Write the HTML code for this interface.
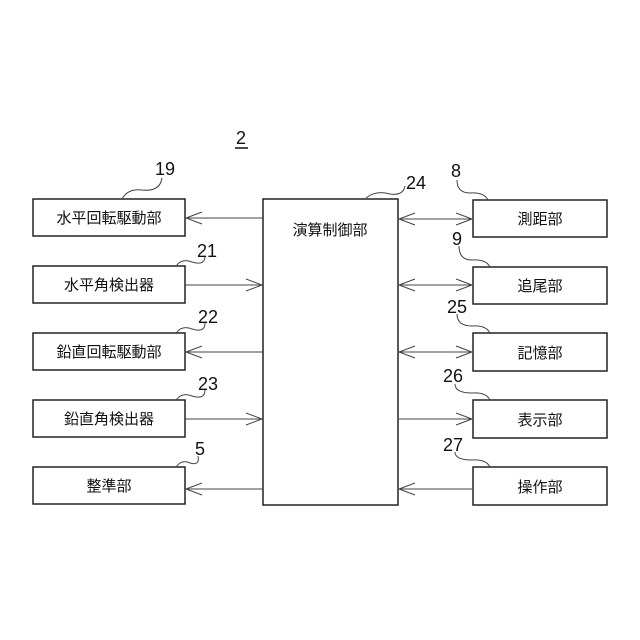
<!DOCTYPE html>
<html><head><meta charset="utf-8"><style>
body{margin:0;background:#fff}
svg{display:block}
text{font-family:"Liberation Sans","Noto Sans CJK JP",sans-serif;fill:#111}
</style></head><body>
<svg width="640" height="640" viewBox="0 0 640 640" xmlns="http://www.w3.org/2000/svg">
<g fill="none" stroke="#222" stroke-width="1.5">
<rect x="33" y="199" width="152" height="37"/>
<rect x="33" y="266" width="152" height="37"/>
<rect x="33" y="333" width="152" height="37"/>
<rect x="33" y="400" width="152" height="37"/>
<rect x="33" y="467" width="152" height="37"/>
<rect x="263" y="199" width="135" height="306"/>
<rect x="473" y="200" width="134" height="37"/>
<rect x="473" y="267" width="134" height="37"/>
<rect x="473" y="333" width="134" height="38"/>
<rect x="473" y="400" width="134" height="38"/>
<rect x="473" y="467" width="134" height="38"/>
</g>
<g fill="none" stroke="#444" stroke-width="1">
<!-- left connectors -->
<line x1="186" y1="218" x2="263" y2="218"/><polyline points="202,212 186,218 202,224"/>
<line x1="185" y1="285" x2="262" y2="285"/><polyline points="246,279 262,285 246,291"/>
<line x1="186" y1="352" x2="263" y2="352"/><polyline points="202,346 186,352 202,358"/>
<line x1="185" y1="419" x2="262" y2="419"/><polyline points="246,413 262,419 246,425"/>
<line x1="186" y1="489" x2="263" y2="489"/><polyline points="202,483 186,489 202,495"/>
<!-- right connectors -->
<line x1="399" y1="219" x2="472" y2="219"/><polyline points="415,213 399,219 415,225"/><polyline points="456,213 472,219 456,225"/>
<line x1="399" y1="285" x2="472" y2="285"/><polyline points="415,279 399,285 415,291"/><polyline points="456,279 472,285 456,291"/>
<line x1="399" y1="352" x2="472" y2="352"/><polyline points="415,346 399,352 415,358"/><polyline points="456,346 472,352 456,358"/>
<line x1="399" y1="419" x2="472" y2="419"/><polyline points="456,413 472,419 456,425"/>
<line x1="399" y1="489" x2="472" y2="489"/><polyline points="415,483 399,489 415,495"/>
<!-- leaders -->
<path d="M122,199 Q128,188 142,190 Q160,192 162,178"/>
<path d="M176,266 Q182,258 192,262 Q205,266 205,256"/>
<path d="M176,333 Q182,325 192,329 Q205,333 205,323"/>
<path d="M176,400 Q182,392 192,396 Q205,400 205,390"/>
<path d="M176,467 Q182,459 190,463 Q200,466 198,456"/>
<path d="M366,198 Q376,190 390,194 Q403,196 405,186"/>
<path d="M488,200 Q484,192 470,193 Q457,193 457,180"/>
<path d="M490,267 Q486,259 472,260 Q459,260 459,246"/>
<path d="M490,333 Q486,325 472,326 Q457,326 457,314"/>
<path d="M490,400 Q486,392 472,393 Q455,393 455,384"/>
<path d="M490,467 Q486,459 472,460 Q455,460 455,452"/>
</g>
<g font-size="15" text-anchor="middle">
<text x="109" y="223">水平回転駆動部</text>
<text x="109" y="290">水平角検出器</text>
<text x="109" y="357">鉛直回転駆動部</text>
<text x="109" y="424">鉛直角検出器</text>
<text x="109" y="491">整準部</text>
<text x="330" y="235">演算制御部</text>
<text x="540" y="224">測距部</text>
<text x="540" y="291">追尾部</text>
<text x="540" y="358">記憶部</text>
<text x="540" y="425">表示部</text>
<text x="540" y="492">操作部</text>
</g>
<g font-size="18" text-anchor="middle">
<text x="241" y="144">2</text>
<text x="165" y="175">19</text>
<text x="207" y="257">21</text>
<text x="208" y="323">22</text>
<text x="208" y="390">23</text>
<text x="200" y="455">5</text>
<text x="416" y="189">24</text>
<text x="456" y="177">8</text>
<text x="457" y="245">9</text>
<text x="457" y="313">25</text>
<text x="453" y="382">26</text>
<text x="453" y="451">27</text>
</g>
<line x1="235" y1="148" x2="248" y2="148" stroke="#111" stroke-width="1.5"/>
</svg>
</body></html>
